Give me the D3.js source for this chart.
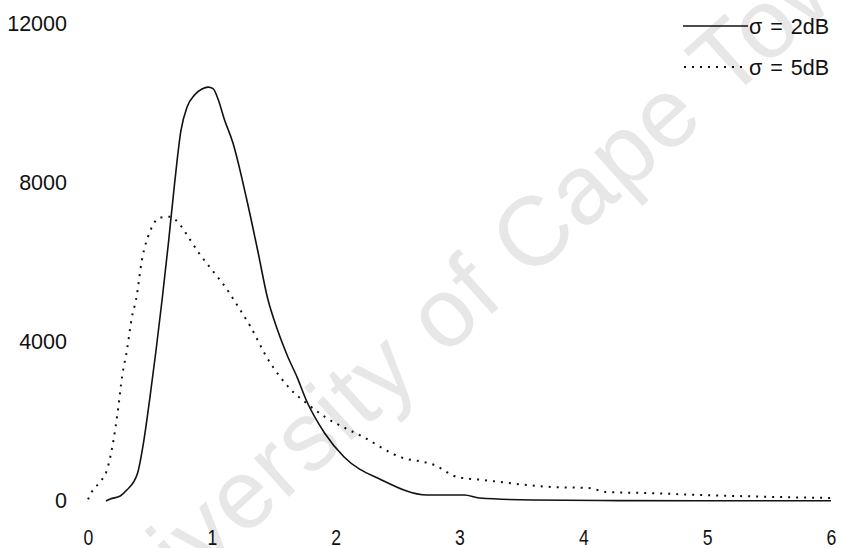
<!DOCTYPE html>
<html>
<head>
<meta charset="utf-8">
<script src="https://cdn.jsdelivr.net/npm/d3@7"></script>
<style>
  body { margin: 0; background: #fff; }
  svg { display: block; }
</style>
</head>
<body>
<svg id="chart" width="841" height="548"></svg>
<script>
// Axis tick values
const xTicks = [0, 1, 2, 3, 4, 5, 6];
const yTicks = [0, 4000, 8000, 12000];

// Series: sigma = 2 dB
const s2X = [0.145, 0.18, 0.26, 0.315, 0.40, 0.45, 0.50, 0.55, 0.60, 0.65, 0.70, 0.75, 0.80, 0.86, 0.92, 0.97, 1.01, 1.05, 1.10, 1.17, 1.28, 1.37, 1.45, 1.53, 1.61, 1.69, 1.76, 1.91, 2.07, 2.37, 2.74, 3.04, 3.16, 3.59, 4.14, 4.94, 6.0];
const s2Y = [0, 50, 125, 280, 700, 1500, 2600, 3800, 5100, 6500, 8000, 9300, 9900, 10200, 10350, 10400, 10360, 10100, 9600, 9000, 7600, 6300, 5100, 4300, 3650, 3100, 2550, 1710, 1100, 530, 150, 150, 75, 25, 12, 8, 8];

// Series: sigma = 5 dB
const s5X = [0, 0.04, 0.097, 0.153, 0.202, 0.242, 0.275, 0.315, 0.355, 0.388, 0.436, 0.5, 0.582, 0.662, 0.743, 0.824, 0.905, 1.0, 1.107, 1.228, 1.309, 1.446, 1.551, 1.64, 1.761, 1.914, 2.221, 2.52, 2.795, 2.981, 3.19, 3.74, 4.04, 4.19, 4.5, 4.95, 5.56, 6.0];
const s5Y = [40, 277, 478, 780, 1459, 2289, 3119, 3799, 4629, 5057, 6063, 6767, 7120, 7145, 6943, 6566, 6189, 5811, 5384, 4805, 4400, 3600, 3119, 2792, 2465, 2113, 1610, 1107, 906, 604, 528, 352, 327, 226, 201, 151, 101, 75];

const legendLabels = ["σ = 2dB", "σ = 5dB"];

const svg = d3.select("#chart");
const font = "'Liberation Sans', Arial, Helvetica, sans-serif";

const x = d3.scaleLinear().domain([0, 6]).range([88, 831]);
const y = d3.scaleLinear().domain([0, 12000]).range([501, 23.4]);

// Faint diagonal watermark behind the plot
svg.append("text")
  .attr("transform", "translate(92,674) rotate(-42)")
  .attr("font-family", font)
  .attr("font-size", 98)
  .attr("letter-spacing", 1.5)
  .attr("fill", "#e7e7e7")
  .text("University of Cape Town");

// Y tick labels (no axis line)
const yAxis = d3.axisLeft(y).tickValues(yTicks).tickSize(0).tickPadding(21).tickFormat(d3.format("d"));
const gy = svg.append("g").attr("transform", "translate(88,0)").call(yAxis);
gy.select(".domain").remove();
gy.selectAll("text").attr("font-family", font).attr("font-size", 21.5).attr("fill", "#111");

// X tick labels (condensed face)
const xAxis = d3.axisBottom(x).tickValues(xTicks).tickSize(0).tickPadding(0).tickFormat(d3.format("d"));
const gx = svg.append("g").attr("transform", "translate(0,529)").call(xAxis);
gx.select(".domain").remove();
gx.selectAll(".tick text")
  .attr("font-family", font).attr("font-size", 22).attr("fill", "#111")
  .attr("dy", "0.71em")
  .attr("transform", "scale(0.8,1)");

const line = d3.line().x(d => x(d[0])).y(d => y(d[1])).curve(d3.curveMonotoneX);

svg.append("path")
  .datum(d3.zip(s2X, s2Y))
  .attr("d", line)
  .attr("fill", "none")
  .attr("stroke", "#111")
  .attr("stroke-width", 1.6);

svg.append("path")
  .datum(d3.zip(s5X, s5Y))
  .attr("d", line)
  .attr("fill", "none")
  .attr("stroke", "#111")
  .attr("stroke-width", 2)
  .attr("stroke-dasharray", "2,6");

// Legend
const legend = svg.append("g");
const legendY = [26, 67];
legend.append("line").attr("x1", 683).attr("x2", 748).attr("y1", legendY[0]).attr("y2", legendY[0])
  .attr("stroke", "#111").attr("stroke-width", 1.6);
legend.append("line").attr("x1", 684).attr("x2", 748).attr("y1", legendY[1]).attr("y2", legendY[1])
  .attr("stroke", "#111").attr("stroke-width", 2).attr("stroke-dasharray", "2,6");
legend.selectAll("text.lg").data(legendLabels).enter().append("text")
  .attr("class", "lg")
  .attr("x", 749)
  .attr("y", (d, i) => legendY[i])
  .attr("dy", "0.36em")
  .attr("font-family", font)
  .attr("font-size", 21.5)
  .attr("word-spacing", 2)
  .attr("fill", "#111")
  .text(d => d);
</script>
</body>
</html>
